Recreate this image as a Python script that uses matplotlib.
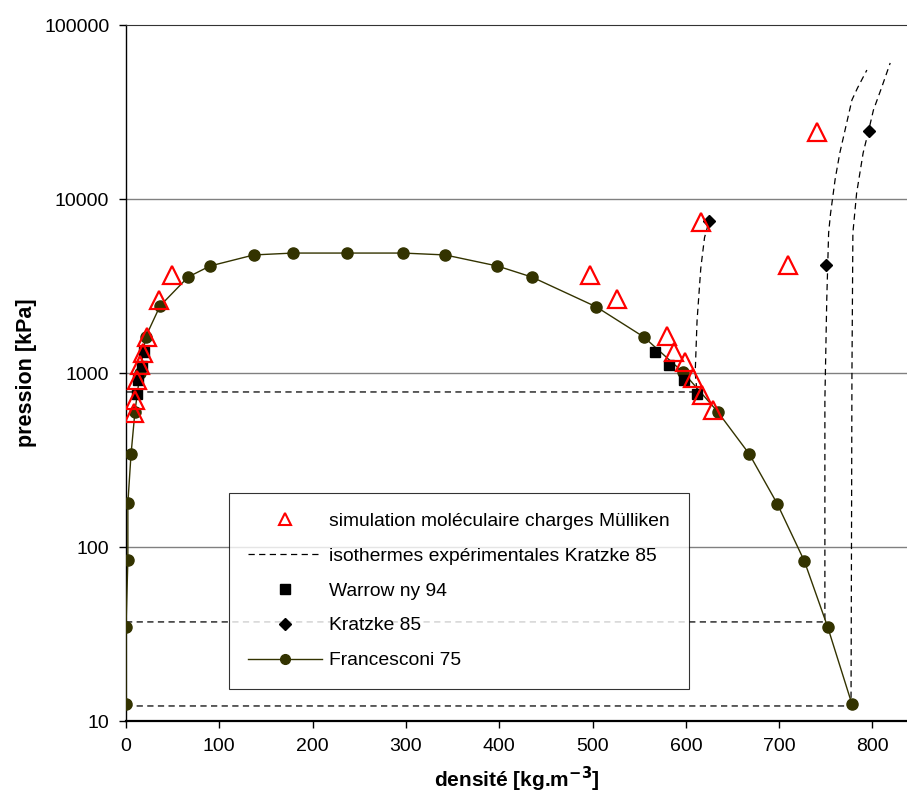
import numpy as np
import matplotlib
matplotlib.use('Agg')
import matplotlib.pyplot as plt
from matplotlib.lines import Line2D

plt.rcParams['font.family'] = ['Liberation Sans', 'DejaVu Sans']
plt.rcParams['font.size'] = 14

# Francesconi 75 (coexistence curve)
franc_rho = [0, 0, 2, 2, 5.4, 9.6, 15, 21, 36.5, 66.5, 90, 137, 179, 237, 297,
             342, 398, 435, 504, 555, 597, 634, 668, 698, 727, 752, 778]
franc_p = [12.5, 34.7, 84, 179, 342, 600, 1000, 1610, 2430, 3560, 4120, 4770, 4890, 4890, 4890,
           4770, 4120, 3560, 2400, 1610, 1010, 600, 342, 177, 83, 34.7, 12.5]

# simulation moleculaire charges Mulliken
sim_rho = [49, 35, 22.5, 18, 15, 12, 9.6, 8.6,
           497, 526, 580, 587, 599, 608, 617, 629,
           616, 710, 741]
sim_p = [3660, 2630, 1610, 1300, 1110, 910, 700, 590,
         3660, 2660, 1630, 1320, 1160, 936, 748, 613,
         7380, 4180, 24270]

# Warrowny 94
warr_rho = [19, 17, 13, 11.5, 567, 582, 598, 612]
warr_p = [1320, 1100, 910, 757, 1320, 1110, 910, 757]

# Kratzke 85
krat_rho = [625, 750, 796]
krat_p = [7480, 4180, 24600]

# isothermes experimentales Kratzke 85
iso1_rho = [0, 612, 610, 612, 616, 620, 625]
iso1_p = [778, 778, 1000, 2000, 4000, 6000, 7480]
iso2_rho = [0, 749, 749, 751, 753, 755, 757, 760, 765, 778, 784, 794]
iso2_p = [37.1, 37.1, 700, 2630, 6380, 8200, 9860, 13000, 18400, 37100, 43500, 55100]
iso3_rho = [0, 777, 777.5, 778, 779, 783, 790, 796, 801, 810, 819]
iso3_p = [12.2, 12.2, 100, 1000, 6380, 10800, 18400, 24900, 32400, 44000, 60500]

x_ticks = [0, 100, 200, 300, 400, 500, 600, 700, 800]
y_ticks = [10, 100, 1000, 10000, 100000]
y_ticklabels = ['10', '100', '1000', '10000', '100000']

olive = '#333300'


def main():
    fig = plt.figure(figsize=(9.07, 7.94), dpi=100)
    ax = fig.add_axes([126 / 907, 73 / 794, 781 / 907, 696 / 794])
    ax.set_yscale('log')
    ax.set_xlim(0, 837)
    ax.set_ylim(10, 100000)

    for yt in y_ticks[1:4]:
        ax.axhline(yt, color='#808080', lw=1, zorder=1)

    dash = (0, (5, 3.5))
    for r, p in [(iso1_rho, iso1_p), (iso2_rho, iso2_p), (iso3_rho, iso3_p)]:
        ax.plot(r, p, color='black', lw=0.9, linestyle=dash, zorder=2)

    ax.plot(franc_rho, franc_p, '-', color=olive, lw=1, marker='o', ms=8,
            mfc=olive, mec=olive, zorder=3)
    ax.plot(warr_rho, warr_p, 's', color='black', ms=7, zorder=4)
    ax.plot(krat_rho, krat_p, 'D', color='black', ms=6, zorder=4)
    ax.plot(sim_rho, sim_p, '^', mfc='none', mec='red', ms=13, mew=1.6, zorder=5)

    ax.set_xticks(x_ticks)
    ax.set_yticks(y_ticks)
    ax.set_yticklabels(y_ticklabels)
    ax.yaxis.set_minor_locator(matplotlib.ticker.NullLocator())
    ax.tick_params(axis='both', direction='out', length=5, width=1, labelsize=14, pad=7)

    ax.spines['right'].set_visible(False)
    ax.spines['top'].set_color('#333333')
    ax.spines['left'].set_linewidth(1)
    ax.spines['bottom'].set_linewidth(1.6)

    ax.set_xlabel(r'densité [kg.m$^{\mathbf{-3}}$]', fontsize=15, fontweight='bold', labelpad=7)
    ax.set_ylabel('pression [kPa]', fontsize=15.5, fontweight='bold', labelpad=5)

    handles = [
        Line2D([], [], linestyle='none', marker='^', mfc='none', mec='red', ms=8, mew=1.5),
        Line2D([], [], color='black', lw=0.9, linestyle=(0, (5, 3.5))),
        Line2D([], [], linestyle='none', marker='s', color='black', ms=7),
        Line2D([], [], linestyle='none', marker='D', color='black', ms=6),
        Line2D([], [], color=olive, lw=1, marker='o', ms=7, mfc=olive, mec=olive),
    ]
    labels = ['simulation moléculaire charges Mülliken',
              'isothermes expérimentales Kratzke 85',
              'Warrow ny 94',
              'Kratzke 85',
              'Francesconi 75']
    leg = ax.legend(handles, labels, loc='upper left', bbox_to_anchor=(0.132, 0.3276),
                    borderaxespad=0, fontsize=13.9, handlelength=3.8, handletextpad=0.38,
                    labelspacing=0.9, borderpad=1.0, fancybox=False, frameon=True)
    leg.get_frame().set_edgecolor('black')
    leg.get_frame().set_linewidth(0.8)

    fig.savefig('out.png', dpi=100)


if __name__ == '__main__':
    main()
